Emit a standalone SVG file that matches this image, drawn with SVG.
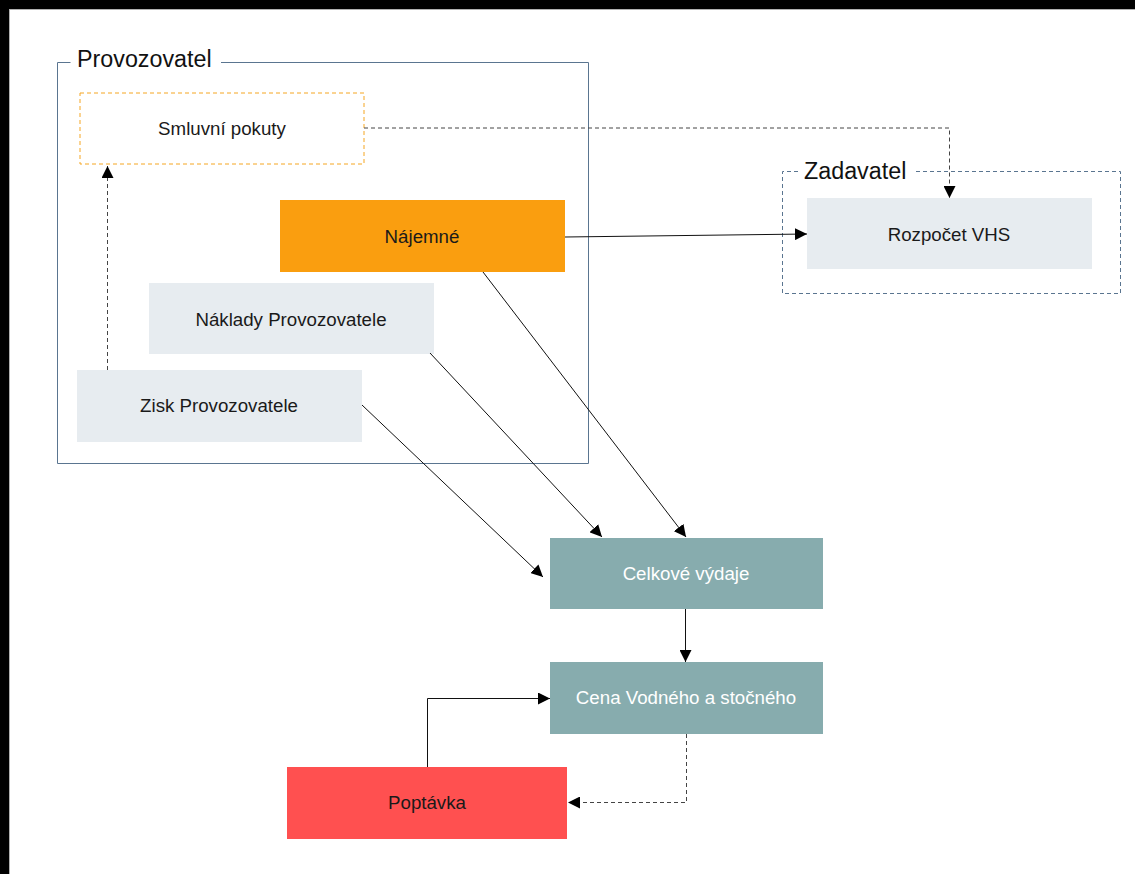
<svg xmlns="http://www.w3.org/2000/svg" width="1135" height="874" viewBox="0 0 1135 874">
<style>
  text { font-family: "Liberation Sans", Arial, sans-serif; }
  .lbl { font-size: 18.7px; text-anchor: middle; dominant-baseline: central; fill: #1a1a1a; }
  .lblw { font-size: 18.7px; text-anchor: middle; dominant-baseline: central; fill: #ffffff; }
  .title { font-size: 23.3px; fill: #111; }
  .light { fill: #e7ecf0; }
  .teal { fill: #87acae; }
  .cont { fill: none; stroke: #5a7590; stroke-width: 1; }
  .edge { fill: none; stroke: #111; stroke-width: 1; }
  .dash { fill: none; stroke: #444; stroke-width: 1; stroke-dasharray: 4 3; }
</style>
<defs>
  <marker id="arr" markerUnits="userSpaceOnUse" markerWidth="13" markerHeight="12" refX="12" refY="6" orient="auto">
    <path d="M0,0 L12,6 L0,12 Z" fill="#000"/>
  </marker>
</defs>
<rect x="0" y="0" width="1135" height="874" fill="#000"/>
<rect x="9" y="9" width="1126" height="865" fill="#b0b0b0"/>
<rect x="10" y="10" width="1125" height="864" fill="#fff"/>

<g id="provozovatel">
  <path class="cont" d="M70.5,62.5 H57.5 V463.5 H588.5 V62.5 H221"/>
  <text class="title" x="77" y="67">Provozovatel</text>
</g>
<g id="zadavatel">
  <path class="cont" stroke-dasharray="4 3" d="M798,171.5 H782.5 V293.5 H1120.5 V171.5 H916"/>
  <text class="title" x="804" y="179">Zadavatel</text>
</g>

<g id="smluvni-pokuty">
  <rect x="80" y="93" width="284" height="71" fill="#fff" stroke="#f5a623" stroke-width="1" stroke-dasharray="4 3"/>
  <text class="lbl" x="222" y="128">Smluvní pokuty</text>
</g>
<g id="najemne">
  <rect x="280" y="200" width="285" height="72" fill="#fa9e0f"/>
  <text class="lbl" x="422" y="236">Nájemné</text>
</g>
<g id="naklady">
  <rect class="light" x="149" y="283" width="285" height="71"/>
  <text class="lbl" x="291" y="319">Náklady Provozovatele</text>
</g>
<g id="zisk">
  <rect class="light" x="77" y="370" width="285" height="72"/>
  <text class="lbl" x="219" y="405">Zisk Provozovatele</text>
</g>
<g id="rozpocet">
  <rect class="light" x="807" y="198" width="285" height="71"/>
  <text class="lbl" x="949" y="234">Rozpočet VHS</text>
</g>
<g id="celkove">
  <rect class="teal" x="550" y="538" width="273" height="71"/>
  <text class="lblw" x="686" y="573">Celkové výdaje</text>
</g>
<g id="cena">
  <rect class="teal" x="550" y="662" width="273" height="72"/>
  <text class="lblw" x="686" y="697">Cena Vodného a stočného</text>
</g>
<g id="poptavka">
  <rect x="287" y="767" width="280" height="72" fill="#ff5050"/>
  <text class="lbl" x="427" y="802">Poptávka</text>
</g>

<g id="connectors">
  <path class="dash" d="M364,128 H949.5 V198" marker-end="url(#arr)"/>
  <path class="dash" d="M107.5,370 V166" marker-end="url(#arr)"/>
  <path class="edge" d="M565,237 L807,234" marker-end="url(#arr)"/>
  <path class="edge" d="M483,272 L686,537" marker-end="url(#arr)"/>
  <path class="edge" d="M430,353 L602,537" marker-end="url(#arr)"/>
  <path class="edge" d="M362,405 L543,577" marker-end="url(#arr)"/>
  <path class="edge" d="M685.5,609 V662" marker-end="url(#arr)"/>
  <path class="edge" d="M427.5,767 V698.5 H550" marker-end="url(#arr)"/>
  <path class="dash" d="M686.5,734 V802.5 H568" marker-end="url(#arr)"/>
</g>
</svg>
